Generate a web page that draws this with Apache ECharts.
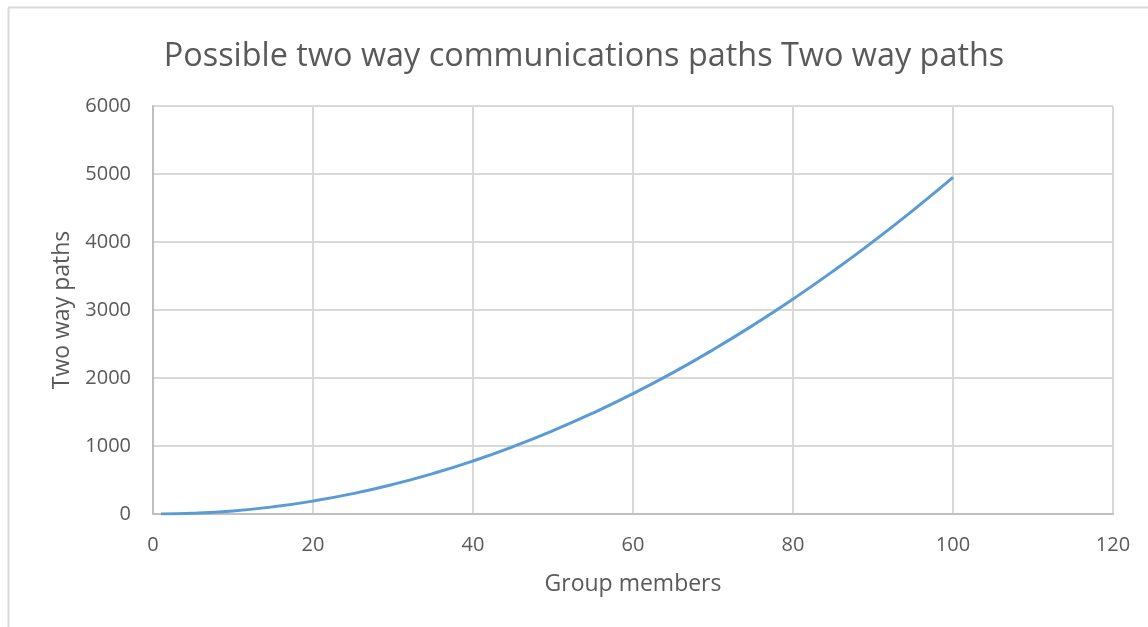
<!DOCTYPE html>
<html><head><meta charset="utf-8">
<script src="https://cdn.jsdelivr.net/npm/echarts@6/dist/echarts.min.js"></script>
<style>html,body{margin:0;padding:0;background:#fff}#c{width:1148px;height:627px}</style>
</head><body><div id="c"></div>
<script>
const titleText = 'Possible two way communications paths Two way paths';
const xName = 'Group members';
const yName = 'Two way paths';
const groupMembers = [1, 5, 10, 15, 20, 25, 30, 35, 40, 45, 50, 55, 60, 65, 70, 75, 80, 85, 90, 95, 100];
const twoWayPaths = [0, 10, 45, 105, 190, 300, 435, 595, 780, 990, 1225, 1485, 1770, 2080, 2415, 2775, 3160, 3570, 4005, 4465, 4950];

const chart = echarts.init(document.getElementById('c'));
const txt = '#595959';
const font = 'Open Sans';
chart.setOption({
  animation: false,
  backgroundColor: '#fff',
  title: {
    text: titleText, left: 579, top: 52, textAlign: 'center', textVerticalAlign: 'middle',
    textStyle: { color: txt, fontSize: 32.4, fontWeight: 'normal', fontFamily: font }
  },
  graphic: [
    { type: 'line', shape: { x1: 8.5, y1: 7.5, x2: 8.5, y2: 627 }, style: { stroke: '#d9d9d9', lineWidth: 2 } },
    { type: 'line', shape: { x1: 8, y1: 7.5, x2: 1148, y2: 7.5 }, style: { stroke: '#d9d9d9', lineWidth: 2 } }
  ],
  grid: { left: 153, top: 106, width: 960, height: 408, containLabel: false },
  xAxis: {
    type: 'value', min: 0, max: 120, interval: 20,
    name: xName, nameLocation: 'middle', nameGap: 59,
    nameTextStyle: { color: txt, fontSize: 23, fontFamily: font },
    axisLine: { show: true, lineStyle: { color: '#bfbfbf', width: 2 } },
    axisTick: { show: false },
    axisLabel: { color: txt, fontSize: 20, fontFamily: font, margin: 21, formatter: v => String(v) },
    splitLine: { show: true, lineStyle: { color: '#d9d9d9', width: 2 } }
  },
  yAxis: {
    type: 'value', min: 0, max: 6000, interval: 1000,
    name: yName, nameLocation: 'middle', nameGap: 78, nameRotate: 90,
    nameTextStyle: { color: txt, fontSize: 23, fontFamily: font },
    axisLine: { show: true, lineStyle: { color: '#bfbfbf', width: 2 } },
    axisTick: { show: false },
    axisLabel: { color: txt, fontSize: 20, fontFamily: font, margin: 22, formatter: v => String(v) },
    splitLine: { show: true, lineStyle: { color: '#d9d9d9', width: 2 } }
  },
  series: [{
    type: 'line', smooth: true, showSymbol: false,
    data: groupMembers.map((x, i) => [x, twoWayPaths[i]]),
    lineStyle: { color: '#5b9bd5', width: 3 },
    itemStyle: { color: '#5b9bd5' }
  }]
});
</script></body></html>
